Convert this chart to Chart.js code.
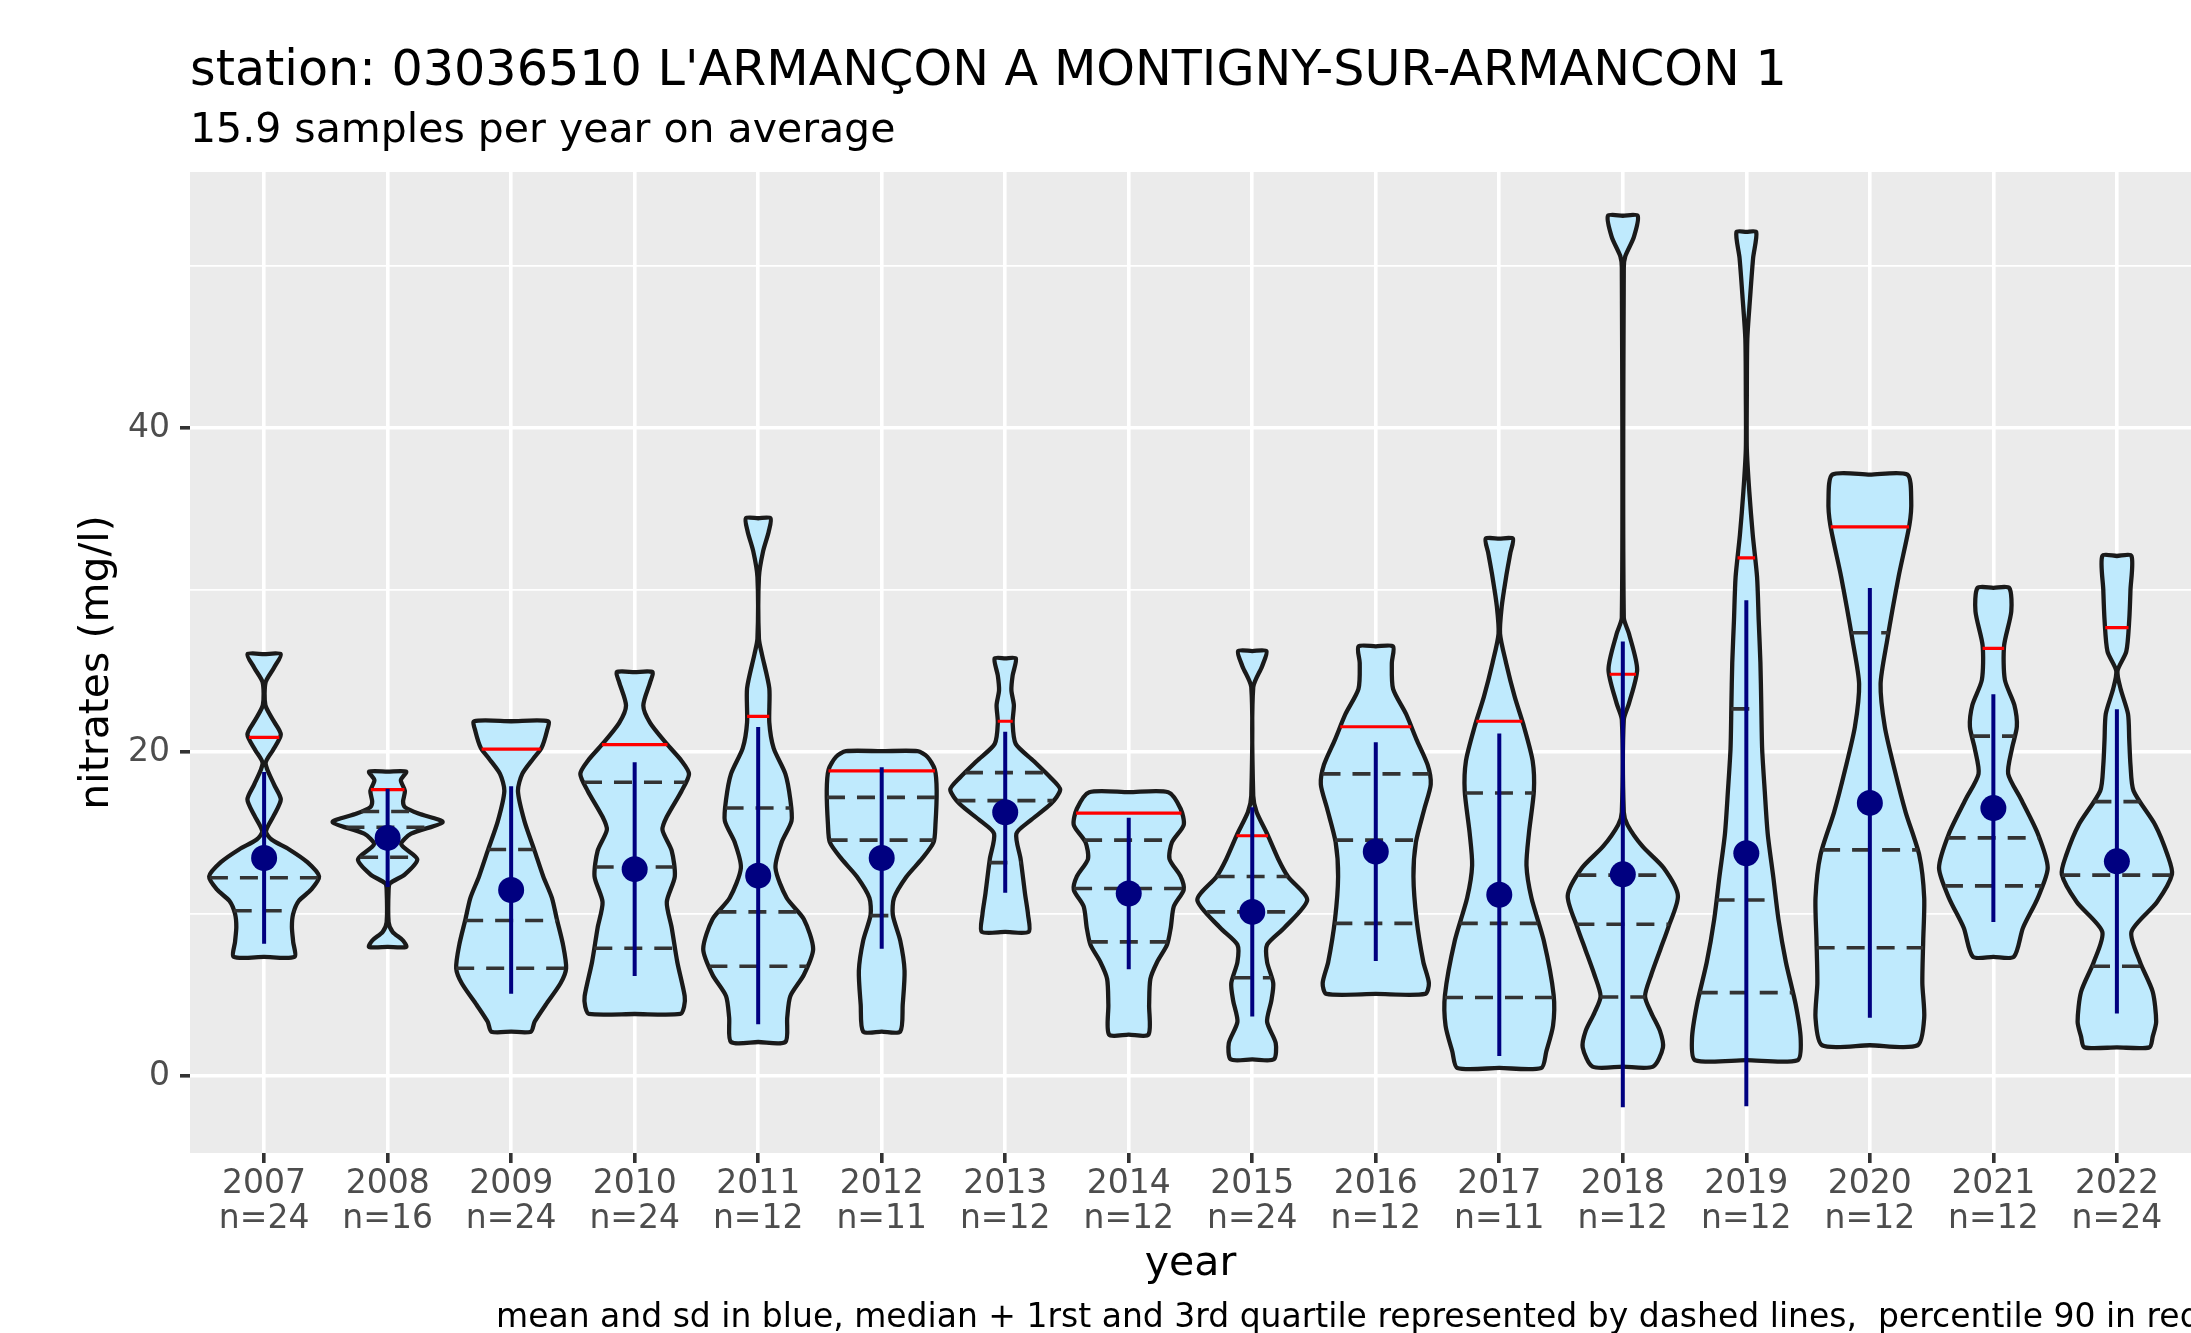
<!DOCTYPE html>
<html lang="fr">
<head>
<meta charset="utf-8">
<title>nitrates – station 03036510</title>
<script src="https://cdn.jsdelivr.net/npm/chart.js@4/dist/chart.umd.min.js"></script>
<style>
  html, body { margin:0; padding:0; background:#fff; overflow:hidden; }
  #wrap { position:relative; width:2191px; height:1333px; }
  #grafico { display:block; }
</style>
</head>
<body>
<div id="wrap"><canvas id="grafico"></canvas></div>
<script>
// ══════════════════════════════════════════════
// DATOS
// ══════════════════════════════════════════════
const anios    = ['2007','2008','2009','2010','2011','2012','2013','2014','2015','2016','2017','2018','2019','2020','2021','2022'];
const conteos  = [24, 16, 24, 24, 12, 11, 12, 12, 24, 12, 11, 12, 12, 12, 12, 24];
const medias   = [13.46, 14.7, 11.48, 12.77, 12.37, 13.46, 16.28, 11.27, 10.13, 13.85, 11.19, 12.45, 13.75, 16.86, 16.54, 13.25];
const desvios  = [5.3, 3.03, 6.4, 6.6, 9.17, 5.6, 4.97, 4.68, 6.46, 6.75, 9.96, 14.37, 15.62, 13.26, 7.03, 9.39];
const p90      = [20.9, 17.68, 20.18, 20.45, 22.2, 18.84, 21.9, 16.23, 14.83, 21.56, 21.9, 24.8, 31.98, 33.9, 26.4, 27.68];
const q1       = [10.2, 13.5, 6.65, 7.89, 6.78, 9.9, 13.17, 8.28, 6.07, 9.42, 4.85, 4.88, 5.15, 7.92, 11.74, 6.78];
const medianas = [12.24, 15.36, 9.6, 12.9, 10.13, 14.56, 17.0, 11.58, 10.13, 14.56, 9.42, 9.37, 10.87, 13.96, 14.7, 12.4];
const q3       = [15.0, 16.33, 13.98, 18.13, 16.54, 17.2, 18.73, 14.56, 12.32, 18.65, 17.47, 12.4, 22.66, 27.36, 20.98, 16.94];
const yTicks   = [0, 10, 20, 30, 40, 50];

// contorno de cada violín: [valor, semi-ancho en unidades de categoría], de abajo hacia arriba
const perfiles = [
  [[7.36,0.245],[8.3,0.235],[9.2,0.225],[10.0,0.235],[10.8,0.28],[11.5,0.38],[12.32,0.445],[13.2,0.35],[14.0,0.2],[14.6,0.06],[15.1,0.015],[16.1,0.08],[17.07,0.135],[18.0,0.08],[19.3,0.012],[20.1,0.07],[21.08,0.135],[22.0,0.07],[22.9,0.01],[24.3,0.012],[25.2,0.08],[26.04,0.135]],
  [[7.97,0.15],[8.36,0.125],[8.9,0.04],[9.5,0.008],[11.5,0.008],[11.9,0.02],[12.45,0.14],[13.38,0.24],[14.3,0.11],[14.96,0.19],[15.67,0.445],[16.2,0.25],[16.6,0.14],[16.94,0.125],[17.6,0.14],[18.26,0.107],[18.79,0.15]],
  [[2.74,0.16],[3.35,0.19],[4.4,0.28],[5.73,0.40],[6.65,0.445],[8.1,0.42],[9.68,0.37],[11.0,0.33],[12.32,0.26],[13.9,0.19],[15.75,0.107],[17.6,0.055],[18.65,0.09],[19.6,0.18],[20.24,0.245],[21.3,0.29],[21.9,0.30]],
  [[3.83,0.37],[4.27,0.40],[4.93,0.405],[7.04,0.345],[9.15,0.30],[10.74,0.26],[12.32,0.325],[13.9,0.30],[15.2,0.225],[16.0,0.26],[17.6,0.38],[18.65,0.44],[19.45,0.38],[20.5,0.26],[21.8,0.125],[22.87,0.07],[24.3,0.125],[24.93,0.145]],
  [[2.1,0.22],[3.6,0.235],[4.93,0.26],[6.25,0.37],[7.84,0.445],[9.68,0.37],[11.0,0.23],[12.85,0.14],[14.43,0.19],[15.75,0.27],[17.07,0.26],[18.65,0.22],[20.24,0.125],[21.82,0.09],[23.93,0.09],[26.04,0.03],[27.0,0.006],[30.8,0.006],[32.4,0.04],[33.6,0.085],[34.43,0.10]],
  [[2.74,0.15],[4.4,0.17],[6.5,0.185],[8.36,0.15],[9.95,0.09],[11.0,0.1],[12.3,0.2],[13.4,0.325],[14.43,0.42],[15.5,0.435],[17.6,0.445],[18.92,0.43],[19.7,0.37],[20.05,0.29]],
  [[8.9,0.19],[9.95,0.185],[11.27,0.16],[13.38,0.125],[14.96,0.09],[15.75,0.2],[16.8,0.37],[17.68,0.445],[18.4,0.37],[19.45,0.23],[20.5,0.085],[21.8,0.06],[22.9,0.07],[23.8,0.05],[24.72,0.06],[25.78,0.086]],
  [[2.56,0.16],[4.4,0.165],[5.99,0.175],[7.04,0.23],[8.1,0.31],[9.15,0.34],[10.47,0.365],[11.5,0.445],[12.32,0.42],[13.4,0.33],[14.43,0.35],[15.5,0.445],[16.5,0.42],[17.52,0.32]],
  [[1.03,0.175],[2.03,0.19],[3.35,0.12],[4.67,0.155],[5.73,0.17],[7.04,0.12],[8.1,0.12],[9.15,0.26],[10.87,0.445],[12.3,0.29],[13.4,0.21],[14.96,0.12],[16.3,0.035],[17.3,0.008],[24.0,0.008],[25.3,0.08],[26.23,0.115]],
  [[5.07,0.40],[5.73,0.43],[7.04,0.385],[9.68,0.33],[12.32,0.305],[14.43,0.325],[16.54,0.395],[18.0,0.445],[19.2,0.42],[20.77,0.33],[22.35,0.245],[23.9,0.14],[25.5,0.13],[26.52,0.14]],
  [[0.5,0.34],[1.5,0.38],[3.1,0.435],[5.0,0.44],[8.36,0.36],[11.0,0.26],[13.0,0.22],[15.0,0.24],[17.6,0.28],[19.45,0.27],[21.56,0.2],[23.4,0.125],[25.5,0.055],[27.3,0.006],[29.0,0.02],[30.8,0.055],[32.3,0.09],[33.17,0.11]],
  [[0.58,0.245],[1.77,0.325],[2.8,0.3],[3.9,0.23],[4.93,0.18],[6.25,0.23],[7.84,0.305],[9.15,0.367],[11.13,0.446],[12.85,0.33],[14.17,0.16],[15.5,0.038],[16.3,0.008],[22.0,0.008],[23.0,0.05],[25.1,0.116],[27.3,0.05],[28.3,0.008],[49.9,0.008],[50.6,0.02],[51.8,0.09],[53.1,0.12]],
  [[0.98,0.415],[2.3,0.44],[4.4,0.4],[7.04,0.32],[9.68,0.26],[12.3,0.218],[14.96,0.173],[17.6,0.149],[20.2,0.128],[22.9,0.121],[25.5,0.114],[28.15,0.1],[30.8,0.087],[33.4,0.052],[36.07,0.024],[38.7,0.004],[42.0,0.004],[45.5,0.008],[48.0,0.03],[50.5,0.055],[52.1,0.08]],
  [[1.9,0.387],[3.6,0.44],[5.73,0.425],[8.36,0.432],[11.0,0.44],[13.64,0.4],[16.28,0.29],[18.92,0.2],[21.56,0.121],[24.2,0.087],[26.8,0.138],[30.8,0.232],[34.0,0.32],[35.5,0.335],[37.12,0.304]],
  [[7.36,0.166],[9.15,0.24],[11.0,0.36],[12.85,0.44],[14.96,0.36],[17.07,0.225],[18.65,0.12],[20.2,0.15],[21.56,0.19],[22.9,0.17],[24.46,0.093],[26.57,0.087],[28.68,0.145],[30.13,0.128]],
  [[1.77,0.263],[2.43,0.29],[3.35,0.318],[5.2,0.29],[7.04,0.187],[8.9,0.118],[10.74,0.325],[12.45,0.446],[13.64,0.41],[15.5,0.31],[17.6,0.135],[19.2,0.11],[20.77,0.1],[22.35,0.09],[23.9,0.03],[25.0,0.005],[26.2,0.076],[28.15,0.1],[30.0,0.11],[32.1,0.118]]
];

const TITULO    = "station: 03036510 L'ARMANÇON A MONTIGNY-SUR-ARMANCON 1";
const SUBTITULO = '15.9 samples per year on average';
const NOTA      = 'mean and sd in blue, median + 1rst and 3rd quartile represented by dashed lines,  percentile 90 in red';

const RELLENO  = '#BFEAFD';
const CONTORNO = '#1A1A1A';
const AZUL     = '#000080';
const FUENTE   = "'DejaVu Sans', sans-serif";

Chart.defaults.font.family = FUENTE;

// ══════════════════════════════════════════════
// GEOMETRÍA
// ══════════════════════════════════════════════
// semi-ancho del violín a un valor dado (para cortar las líneas de cuantiles)
function anchoEn(perfil, v) {
  for (let k = 1; k < perfil.length; k++) {
    const [v0, w0] = perfil[k-1], [v1, w1] = perfil[k];
    if (v >= v0 && v <= v1) return w0 + (w1 - w0) * (v - v0) / (v1 - v0);
  }
  return 0;
}

function tramos(valores) {
  const out = [];
  valores.forEach((q, i) => {
    const w = anchoEn(perfiles[i], q);
    out.push({ x: i - w, y: q }, { x: i + w, y: q }, { x: i, y: null });
  });
  return out;
}

const violines = perfiles.map((p, i) => {
  const base = p[0][0], tope = p[p.length-1][0];
  const der  = p.map(([v, w]) => ({ x: i + w, y: v }));
  const izq  = p.slice().reverse().map(([v, w]) => ({ x: i - w, y: v }));
  return {
    label: 'violin ' + anios[i],
    data: [{ x: i, y: base }, ...der, { x: i, y: tope }, ...izq, { x: i, y: base }],
    fill: 'shape', backgroundColor: RELLENO,
    borderColor: CONTORNO, borderWidth: 4.3, borderJoinStyle: 'round',
    pointRadius: 0, pointHitRadius: 0, tension: 0.25, order: 10
  };
});

const sdData = [];
medias.forEach((m, i) => sdData.push({ x: i, y: m + desvios[i] }, { x: i, y: m - desvios[i] }, { x: i, y: null }));

// ══════════════════════════════════════════════
// PLUGINS
// ══════════════════════════════════════════════
const fondoPanel = {
  id: 'fondoPanel',
  beforeDraw(chart) {
    const { ctx, chartArea: a } = chart;
    ctx.save();
    ctx.fillStyle = '#EBEBEB';
    ctx.fillRect(a.left, a.top, a.right - a.left, a.bottom - a.top);
    ctx.restore();
  }
};

const textos = {
  id: 'textos',
  afterDraw(chart) {
    const { ctx, chartArea: a } = chart;
    ctx.save();
    ctx.fillStyle = '#000';
    ctx.textAlign = 'left';
    ctx.textBaseline = 'alphabetic';
    ctx.font = '49.2px ' + FUENTE;
    ctx.fillText(TITULO, a.left, 85);
    ctx.font = '41px ' + FUENTE;
    ctx.fillText(SUBTITULO, a.left, 142);
    ctx.font = '33px ' + FUENTE;
    ctx.fillText(NOTA, 496, 1327);
    ctx.restore();
  }
};

// ══════════════════════════════════════════════
// GRÁFICO
// ══════════════════════════════════════════════
new Chart(document.getElementById('grafico'), {
  type: 'line',
  data: {
    datasets: [
      { label: 'mean', data: medias.map((m, i) => ({ x: i, y: m })), showLine: false,
        pointRadius: 13, pointBackgroundColor: AZUL, pointBorderColor: AZUL, pointBorderWidth: 0, order: 0 },
      { label: 'sd', data: sdData, borderColor: AZUL, borderWidth: 4, pointRadius: 0, spanGaps: false, order: 1 },
      { label: 'p90', data: tramos(p90), borderColor: '#FF0000', borderWidth: 3.2, pointRadius: 0, spanGaps: false, order: 2 },
      { label: 'quartiles', data: [...tramos(q1), ...tramos(medianas), ...tramos(q3)],
        borderColor: '#333333', borderWidth: 3.6, borderDash: [18, 12], pointRadius: 0, spanGaps: false, order: 3 },
      ...violines
    ]
  },
  options: {
    responsive: true, maintainAspectRatio: false, animation: false,
    devicePixelRatio: 1, events: [],
    layout: { autoPadding: false, padding: { top: 172, left: 0, right: 0, bottom: 0 } },
    plugins: { legend: { display: false }, tooltip: { enabled: false } },
    scales: {
      x: {
        type: 'linear', min: -0.6, max: 15.6,
        afterBuildTicks: s => { s.ticks = anios.map((_, i) => ({ value: i })); },
        afterFit: s => { s.height = 180; },
        border: { display: false },
        grid: { color: '#FFFFFF', lineWidth: 3.6, tickLength: 10, tickColor: '#333333', tickWidth: 3.6 },
        ticks: { autoSkip: false, maxRotation: 0, minRotation: 0, padding: 4, color: '#4D4D4D',
                 font: { size: 33, lineHeight: 1.06 },
                 callback: v => [anios[v], 'n=' + conteos[v]] },
        title: { display: true, text: 'year', color: '#000', font: { size: 41 }, padding: { top: 0, bottom: 44 } }
      },
      y: {
        type: 'linear', min: -4.75, max: 55.8,
        afterBuildTicks: s => { s.ticks = yTicks.map(v => ({ value: v })); },
        afterFit: s => { s.width = 190; },
        border: { display: false },
        grid: {
          color: '#FFFFFF',
          lineWidth: c => (c.tick && c.tick.value % 20 === 0) ? 3.6 : 1.8,
          tickLength: 10,
          tickColor: c => (c.tick && c.tick.value % 20 === 0) ? '#333333' : 'rgba(0,0,0,0)',
          tickWidth: 3.6
        },
        ticks: { padding: 10, color: '#4D4D4D', font: { size: 33 },
                 callback: v => v % 20 === 0 ? String(v) : '' },
        title: { display: true, text: 'nitrates (mg/l)', color: '#000', font: { size: 41 }, padding: { top: 73, bottom: 0 } }
      }
    }
  },
  plugins: [fondoPanel, textos]
});
</script>
</body>
</html>
